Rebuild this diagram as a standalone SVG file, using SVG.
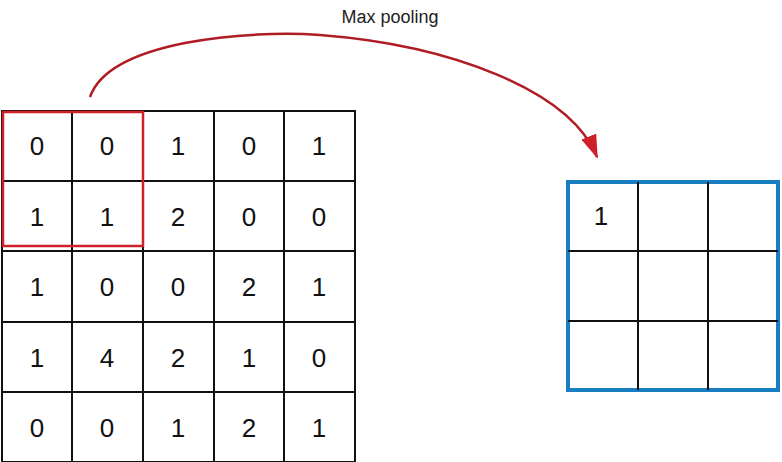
<svg xmlns="http://www.w3.org/2000/svg" width="782" height="462" viewBox="0 0 782 462">
<style>
.g{fill:none;stroke:#111;stroke-width:2}
.t{font-family:"Liberation Sans",Arial,sans-serif;font-size:26px;fill:#111;text-anchor:middle}
</style>
<defs><marker id="ah" markerWidth="24" markerHeight="16" refX="22" refY="8" orient="auto" markerUnits="userSpaceOnUse" viewBox="0 0 24 16"><path d="M0,0L24,8L0,16Z" fill="#d0202a"/></marker></defs>
<rect width="782" height="462" fill="#fff"/>
<g id="input">
<path class="g" d="M2,111H355V462H2Z M72,111V462 M143,111V462 M214,111V462 M284,111V462 M2,181H355 M2,251H355 M2,322H355 M2,392H355"/>
<g class="t">
<text x="37" y="155">0</text><text x="107" y="155">0</text><text x="178" y="155">1</text><text x="249" y="155">0</text><text x="319" y="155">1</text>
<text x="37" y="226">1</text><text x="107" y="226">1</text><text x="178" y="226">2</text><text x="249" y="226">0</text><text x="319" y="226">0</text>
<text x="37" y="296">1</text><text x="107" y="296">0</text><text x="178" y="296">0</text><text x="249" y="296">2</text><text x="319" y="296">1</text>
<text x="37" y="367">1</text><text x="107" y="367">4</text><text x="178" y="367">2</text><text x="249" y="367">1</text><text x="319" y="367">0</text>
<text x="37" y="437">0</text><text x="107" y="437">0</text><text x="178" y="437">1</text><text x="249" y="437">2</text><text x="319" y="437">1</text>
</g>
</g>
<g id="window"><rect x="3" y="112" width="140" height="134" fill="none" stroke="#d0202a" stroke-width="2.5"/></g>
<g id="output">
<rect x="568" y="182" width="210" height="208" fill="none" stroke="#1a7fc0" stroke-width="4"/>
<path class="g" d="M638,182V390 M708,182V390 M568,251H778 M568,321H778"/>
<text class="t" x="601" y="225">1</text>
</g>
<g id="connectors">
<path d="M90,97 C110,40 250,30 320,35 C450,45 570,90 597,157" fill="none" stroke="#b01c24" stroke-width="2.5" marker-end="url(#ah)"/>
</g>
<text x="390" y="23" font-family="'Liberation Sans',Arial,sans-serif" font-size="18" fill="#222" text-anchor="middle">Max pooling</text>
</svg>
